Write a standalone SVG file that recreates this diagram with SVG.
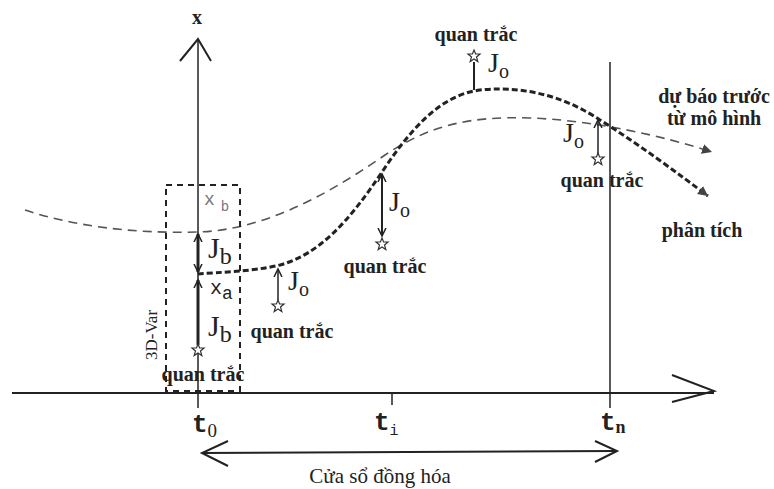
<svg xmlns="http://www.w3.org/2000/svg" width="774" height="489" viewBox="0 0 774 489">
<style>
.ax{stroke:#222;stroke-width:2;fill:none}
.thin{stroke:#222;stroke-width:1.5;fill:none}
.lbl{font-family:"Liberation Serif",serif;font-weight:bold;font-size:20px;fill:#222}
.mono{font-family:"Liberation Mono",monospace;fill:#222}
.sub{font-family:"Liberation Serif",serif}
.star{fill:#fff;stroke:#333;stroke-width:1.2}
</style>
<defs>
<marker id="ah" markerWidth="10" markerHeight="10" refX="8" refY="5" orient="auto-start-reverse" markerUnits="userSpaceOnUse"><path d="M0,1 L8,5 L0,9" fill="none" stroke="#222" stroke-width="1.5"/></marker>
<marker id="ahs" markerWidth="12" markerHeight="12" refX="10" refY="6" orient="auto" markerUnits="userSpaceOnUse"><path d="M0,1 L10,6 L0,11 Z" fill="#444"/></marker>
<symbol id="st" viewBox="-6 -6 12 12" overflow="visible"><polygon class="star" points="0,-6 1.6,-2 6,-2 2.5,1 3.8,5.5 0,3 -3.8,5.5 -2.5,1 -6,-2 -1.6,-2"/></symbol>
</defs>
<g id="axes">
<line class="ax" x1="12" y1="393" x2="714" y2="393"/>
<polyline class="ax" points="672,375 714,391 672,402"/>
<line class="thin" x1="198" y1="40" x2="198" y2="408"/>
<polyline class="ax" points="180,61 198,39 211,61"/>
<text class="lbl" x="197" y="24" text-anchor="middle" style="font-size:20px">x</text>
<line class="thin" x1="392" y1="393" x2="392" y2="405"/>
<line class="thin" x1="610" y1="62" x2="610" y2="408"/>
<text class="mono" x="192" y="432" font-size="26" font-weight="bold">t<tspan class="sub" font-size="19" font-weight="normal" dy="5">0</tspan></text>
<text class="mono" x="374" y="430" font-size="26" font-weight="bold">t<tspan font-size="15" font-weight="normal" dy="5">i</tspan></text>
<text class="mono" x="600" y="430" font-size="26" font-weight="bold">t<tspan class="sub" font-size="18" dy="3">n</tspan></text>
</g>
<g id="window">
<line class="ax" x1="202" y1="453" x2="615" y2="451"/>
<polyline class="ax" points="228,441 202,453 228,466"/>
<polyline class="ax" points="595,441 617,451 595,462"/>
<text class="lbl" x="380" y="483" text-anchor="middle" style="font-weight:normal;font-size:21px">Cửa sổ đồng hóa</text>
</g>
<g id="connectors">
<path d="M25,210 C70,225 130,234 198,232 C260,230 320,200 385,155 C430,125 470,116 530,118 C590,120 660,135 712,152" fill="none" stroke="#555" stroke-width="1.6" stroke-dasharray="9,6" marker-end="url(#ahs)"/>
<path d="M198,274 C220,272 250,272 280,265 C320,254 350,220 382,172 C410,130 440,95 480,90 C530,85 570,100 600,120 C640,145 680,175 708,196" fill="none" stroke="#222" stroke-width="3" stroke-dasharray="6,3" marker-end="url(#ahs)"/>
</g>
<g id="box3dvar">
<rect x="166" y="185" width="74" height="206" fill="none" stroke="#222" stroke-width="2" stroke-dasharray="6,5"/>
<text transform="translate(157,360) rotate(-90)" font-size="17" style="font-family:'Liberation Serif',serif;fill:#222">3D-Var</text>
<text class="mono" x="204" y="205" font-size="18" style="fill:#777">x<tspan font-size="14" dy="6" dx="6">b</tspan></text>
<line class="thin" x1="198" y1="234" x2="198" y2="272" marker-end="url(#ah)" marker-start="url(#ah)" style="stroke-width:3"/>
<text class="sub" x="208" y="258" font-size="30" fill="#222">J<tspan font-size="24" dy="6">b</tspan></text>
<text class="mono" x="210" y="294" font-size="20">x<tspan font-size="18" dy="5">a</tspan></text>
<line class="thin" x1="198" y1="280" x2="198" y2="345" marker-start="url(#ah)" style="stroke-width:3"/>
<text class="sub" x="208" y="336" font-size="30" fill="#222">J<tspan font-size="24" dy="6">b</tspan></text>
<use href="#st" x="192" y="344" width="12" height="12"/>
<text class="lbl" x="203" y="381" text-anchor="middle">quan trắc</text>
</g>
<g id="obs1">
<line class="thin" x1="278" y1="269" x2="278" y2="300" marker-start="url(#ah)"/>
<use href="#st" x="272" y="300" width="12" height="12"/>
<text class="sub" x="288" y="290" font-size="28" fill="#222">J<tspan font-size="20" dy="6">o</tspan></text>
<text class="lbl" x="292" y="338" text-anchor="middle">quan trắc</text>
</g>
<g id="obs2">
<line class="thin" x1="382" y1="174" x2="382" y2="236" style="stroke-width:2" marker-start="url(#ah)" marker-end="url(#ah)"/>
<use href="#st" x="376" y="238" width="12" height="12"/>
<text class="sub" x="389" y="211" font-size="28" fill="#222">J<tspan font-size="20" dy="6">o</tspan></text>
<text class="lbl" x="385" y="273" text-anchor="middle">quan trắc</text>
</g>
<g id="obs3">
<use href="#st" x="468" y="50" width="12" height="12"/>
<line class="thin" x1="474" y1="62" x2="474" y2="90" style="stroke-width:2"/>
<text class="sub" x="488" y="72" font-size="28" fill="#222">J<tspan font-size="20" dy="6">o</tspan></text>
<text class="lbl" x="476" y="41" text-anchor="middle">quan trắc</text>
</g>
<g id="obs4">
<line class="thin" x1="598" y1="120" x2="598" y2="154" marker-start="url(#ah)"/>
<use href="#st" x="592" y="153" width="12" height="12"/>
<text class="sub" x="563" y="142" font-size="28" fill="#222">J<tspan font-size="20" dy="6">o</tspan></text>
<text class="lbl" x="602" y="187" text-anchor="middle">quan trắc</text>
</g>
<g id="labels">
<text class="lbl" x="714" y="103" text-anchor="middle">dự báo trước</text>
<text class="lbl" x="714" y="125" text-anchor="middle">từ mô hình</text>
<text class="lbl" x="702" y="237" text-anchor="middle">phân tích</text>
</g>
</svg>
